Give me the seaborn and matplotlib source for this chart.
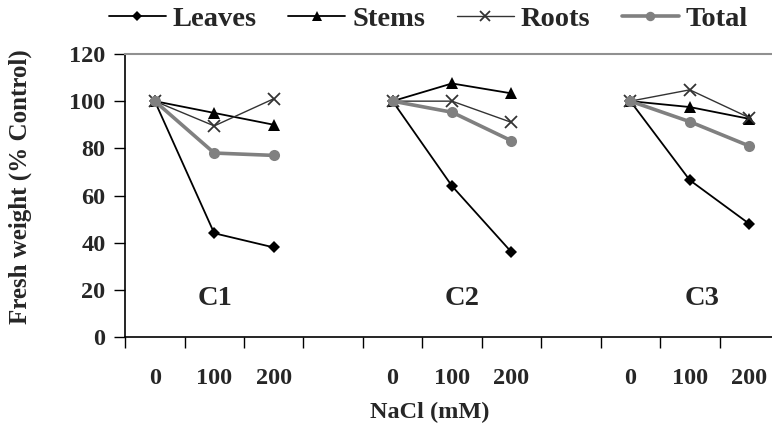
import matplotlib
matplotlib.use("Agg")
import matplotlib.pyplot as plt
import numpy as np
import pandas as pd
import seaborn as sns
from matplotlib.lines import Line2D


# category slots: 3 cultivars x 3 NaCl levels, one empty slot between groups
positions = [0, 1, 2, 4, 5, 6, 8, 9, 10]
groups = ["C1", "C1", "C1", "C2", "C2", "C2", "C3", "C3", "C3"]
nacl_labels = ["0", "100", "200", "0", "100", "200", "0", "100", "200"]

leaves = [100, 44, 38, 100, 64, 36, 100, 66.5, 48]
stems = [100, 95, 90, 100, 107.5, 103.3, 100, 97.5, 92.5]
roots = [100, 89.5, 101, 100, 100, 91, 100, 104.8, 93]
total = [100, 78, 77, 100, 95.3, 83.2, 100, 91.3, 81]

cultivars = ["C1", "C2", "C3"]
cultivar_x = [1.02, 5.17, 9.2]
cultivar_y = 16.5

series_names = ["Leaves", "Stems", "Roots", "Total"]
series_values = [leaves, stems, roots, total]


def build_frame():
    rows = []
    for name, values in zip(series_names, series_values):
        for pos, grp, val in zip(positions, groups, values):
            rows.append({"series": name, "pos": pos, "group": grp, "value": val})
    return pd.DataFrame(rows)


def main():
    sns.set_style("white")
    plt.rcParams["font.family"] = ["Liberation Serif", "DejaVu Serif"]
    plt.rcParams["font.weight"] = "bold"

    df = build_frame()

    styles = {
        "Leaves": dict(color="black", lw=1.3, marker="D", ms=6.5, mew=0),
        "Stems": dict(color="black", lw=1.3, marker="^", ms=9, mew=0),
        "Roots": dict(color="#333333", lw=1.0, marker="x", ms=9, mew=1.3),
        "Total": dict(color="#808080", lw=2.6, marker="o", ms=8, mew=0),
    }

    fig = plt.figure(figsize=(7.72, 4.25), dpi=100)
    ax = fig.add_axes([0.162, 0.207, 0.847, 0.666])

    for name in series_names:
        st = styles[name]
        sns.lineplot(
            data=df[df["series"] == name],
            x="pos",
            y="value",
            units="group",
            estimator=None,
            color=st["color"],
            linewidth=st["lw"],
            marker=st["marker"],
            markersize=st["ms"],
            markeredgewidth=st["mew"],
            markeredgecolor=st["color"],
            markerfacecolor=st["color"],
            ax=ax,
        )

    for label, x in zip(cultivars, cultivar_x):
        ax.text(x, cultivar_y, label, ha="center", va="center",
                fontsize=20.5, fontweight="bold")

    ax.set_xlim(-0.5, 10.5)
    ax.set_ylim(0, 120)
    ax.set_yticks(np.arange(0, 121, 20))
    ax.set_yticklabels([str(v) for v in range(0, 121, 20)], fontsize=17.5,
                       fontweight="bold")
    ax.set_xticks(positions)
    ax.set_xticklabels(nacl_labels, fontsize=17.5, fontweight="bold")
    ax.set_xticks(np.arange(-0.5, 10.6, 1), minor=True)
    ax.tick_params(axis="x", which="major", length=0, pad=22)
    ax.tick_params(axis="x", which="minor", length=8, width=1,
                   direction="out", bottom=True, color="black")
    ax.tick_params(axis="y", which="major", length=8, width=1,
                   direction="out", left=True, color="black", pad=6)

    for side in ["left", "bottom"]:
        ax.spines[side].set_color("black")
        ax.spines[side].set_linewidth(1.2)
    ax.spines["top"].set_color("#909090")
    ax.spines["top"].set_linewidth(1.5)
    ax.spines["right"].set_visible(False)

    ax.set_xlabel("NaCl (mM)", fontsize=17.5, fontweight="bold")
    ax.xaxis.set_label_coords(0.466, -0.228)
    ax.set_ylabel("Fresh weight (% Control)", fontsize=18, fontweight="bold")
    ax.yaxis.set_label_coords(-0.143, 0.53)

    handles = []
    for name in series_names:
        st = styles[name]
        handles.append(
            Line2D([], [], color=st["color"], lw=st["lw"], marker=st["marker"],
                   markersize=st["ms"] * 0.85, markeredgewidth=st["mew"],
                   markeredgecolor=st["color"], markerfacecolor=st["color"])
        )
    fig.legend(
        handles,
        series_names,
        loc="center",
        bbox_to_anchor=(0.555, 0.955),
        ncol=4,
        frameon=False,
        prop={"size": 20.5, "weight": "bold"},
        handlelength=2.0,
        handletextpad=0.25,
        columnspacing=1.1,
    )

    fig.savefig("out.png", dpi=100)
    plt.close(fig)


if __name__ == "__main__":
    main()
